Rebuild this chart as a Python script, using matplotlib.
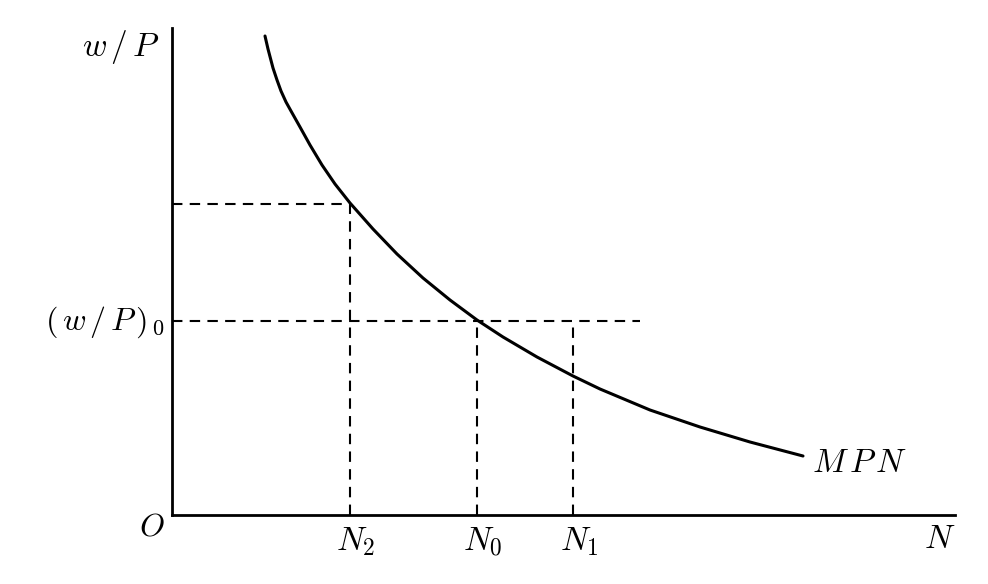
import matplotlib.pyplot as plt

plt.rcParams['mathtext.fontset'] = 'cm'

# MPN curve (N, w/P) in pixel-like units
mpn_n = [93, 96, 101, 105, 109, 114, 119, 128, 138, 150, 163,
         178, 201, 225, 251, 278, 305, 331, 365, 401, 428, 478, 528,
         578, 631]
mpn_w = [479, 466, 447, 435, 424, 413, 404, 388, 370, 350, 331,
         312, 286, 261, 237, 215, 195, 178, 158, 139, 126, 105, 88,
         73, 59]

# reference points
n2, n0, n1 = 178, 305, 401
w_high, w0 = 311, 194
w0_line_end = 468
x_max, y_max = 783, 487

tick_labels = [r'$N_2$', r'$N_0$', r'$N_1$']

fig = plt.figure(figsize=(9.88, 5.84), dpi=100)
ax = fig.add_axes([172 / 988, 69 / 584, 783 / 988, 487 / 584])
ax.set_xlim(0, x_max)
ax.set_ylim(0, y_max)
ax.axis('off')

# axes lines
ax.plot([0, x_max], [0, 0], color='black', lw=2, clip_on=False)
ax.plot([0, 0], [0, y_max], color='black', lw=2, clip_on=False)

ax.plot(mpn_n, mpn_w, color='black', lw=2.2, solid_capstyle='round',
        solid_joinstyle='round')

dash = dict(color='black', lw=1.5, linestyle=(0, (5, 3.5)))
ax.plot([0, n2], [w_high, w_high], **dash)
ax.plot([n2, n2], [0, w_high], **dash)
ax.plot([0, w0_line_end], [w0, w0], **dash)
ax.plot([n0, n0], [0, w0], **dash)
ax.plot([n1, n1], [0, w0], **dash)

ax.text(-13, 468, r'$w\,/\,P$', fontsize=24, ha='right', va='center')
ax.text(-7, 193, r'$(\,w\,/\,P\,)_{\,0}$', fontsize=23, ha='right',
        va='center')
ax.text(-7, -12, r'$O$', fontsize=23, ha='right', va='center')
for xv, lab in zip([n2, n0, n1], tick_labels):
    ax.text(xv + 6, -26, lab, fontsize=24, ha='center', va='center')
ax.text(x_max - 15, -24, r'$N$', fontsize=24, ha='center', va='center')
ax.text(640, 52, r'$M\,P\,N$', fontsize=24, ha='left', va='center')

fig.savefig('out.png', dpi=100)
